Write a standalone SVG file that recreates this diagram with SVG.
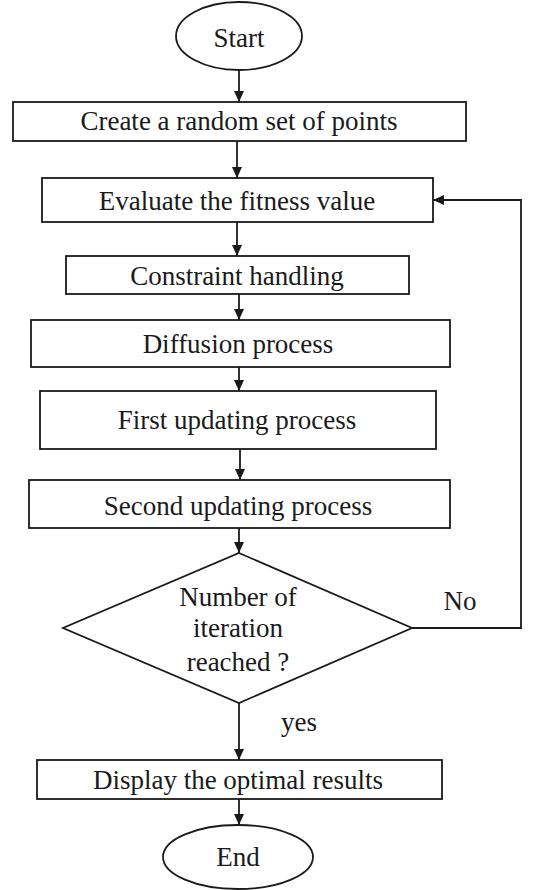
<svg xmlns="http://www.w3.org/2000/svg" width="538" height="890" viewBox="0 0 538 890">
<style>
.n{fill:#fff;stroke:#1a1a1a;stroke-width:1.8}
.t{font-family:"Liberation Serif","Times New Roman",serif;font-size:27px;fill:#1a1a1a;text-anchor:middle}
.c{fill:none;stroke:#1a1a1a;stroke-width:1.8}
</style>
<defs>
<marker id="ah" markerUnits="userSpaceOnUse" markerWidth="12" markerHeight="12" viewBox="0 0 12 12" refX="11" refY="6" orient="auto">
<path d="M0,1 L11,6 L0,11 Z" fill="#1a1a1a"/>
</marker>
</defs>
<rect width="538" height="890" fill="#fff"/>
<g id="connectors">
<path class="c" d="M239,70 V102" marker-end="url(#ah)"/>
<path class="c" d="M237,141 V178" marker-end="url(#ah)"/>
<path class="c" d="M237,222 V256" marker-end="url(#ah)"/>
<path class="c" d="M239,294 V320" marker-end="url(#ah)"/>
<path class="c" d="M239,367 V391" marker-end="url(#ah)"/>
<path class="c" d="M240,449 V480" marker-end="url(#ah)"/>
<path class="c" d="M239,528 V553" marker-end="url(#ah)"/>
<path class="c" d="M239,703 V760" marker-end="url(#ah)"/>
<path class="c" d="M239,799 V825" marker-end="url(#ah)"/>
<path class="c" d="M412,628 H521 V200 H433" marker-end="url(#ah)"/>
<text class="t" x="460" y="610">No</text>
<text class="t" x="299" y="731">yes</text>
</g>
<g id="start">
<ellipse class="n" cx="239" cy="36" rx="63" ry="34"/>
<text class="t" x="239" y="47">Start</text>
</g>
<g id="create">
<rect class="n" x="13" y="102" width="453" height="39"/>
<text class="t" x="239" y="130">Create a random set of points</text>
</g>
<g id="evaluate">
<rect class="n" x="42" y="178" width="391" height="44"/>
<text class="t" x="237" y="210">Evaluate the fitness value</text>
</g>
<g id="constraint">
<rect class="n" x="66" y="256" width="343" height="38"/>
<text class="t" x="237" y="285">Constraint handling</text>
</g>
<g id="diffusion">
<rect class="n" x="31" y="320" width="419" height="47"/>
<text class="t" x="238" y="353">Diffusion process</text>
</g>
<g id="first">
<rect class="n" x="40" y="391" width="396" height="58"/>
<text class="t" x="237" y="429">First updating process</text>
</g>
<g id="second">
<rect class="n" x="29" y="480" width="421" height="48"/>
<text class="t" x="238" y="515">Second updating process</text>
</g>
<g id="decision">
<polygon class="n" points="239,553 412,628 239,703 63,628"/>
<text class="t" x="238" y="606">Number of</text>
<text class="t" x="238" y="637">iteration</text>
<text class="t" x="238" y="671">reached ?</text>
</g>
<g id="display">
<rect class="n" x="37" y="760" width="405" height="39"/>
<text class="t" x="238" y="789">Display the optimal results</text>
</g>
<g id="end">
<ellipse class="n" cx="238" cy="857" rx="75" ry="32"/>
<text class="t" x="238" y="866">End</text>
</g>
</svg>
